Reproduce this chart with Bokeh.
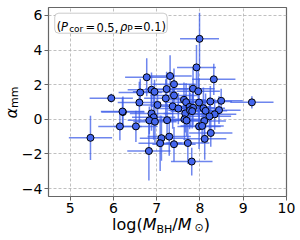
import numpy as np
from bokeh.plotting import figure
from bokeh.models import Range1d, FixedTicker, CustomJSTickFormatter, Label, BoxAnnotation, ColumnDataSource, Div
from bokeh.layouts import row, column
from bokeh.embed import file_html
from bokeh.resources import INLINE

# ---- data ----
log_mbh = [7.99, 7.92, 8.32, 6.77, 7.31, 7.40, 6.62, 6.88, 6.95, 7.23,
           7.84, 7.96, 7.40, 7.21, 5.95, 6.60, 7.02, 7.37, 7.50, 7.63,
           7.68, 7.76, 7.84, 7.98, 8.24, 8.49, 9.20, 8.08, 8.13, 8.44,
           8.34, 8.22, 6.22, 6.21, 6.88, 6.93, 6.83, 6.96, 7.24, 7.66,
           7.64, 7.69, 7.77, 8.10, 7.98, 8.05, 6.15, 6.52, 8.25, 8.11,
           7.29, 7.11, 7.08, 7.40, 7.72, 5.47, 6.82, 7.81, 7.82]
alpha_mm = [4.65, 3.00, 2.31, 2.43, 2.50, 2.03, 1.55, 1.71, 1.59, 1.75,
            1.77, 1.62, 1.38, 1.21, 1.22, 0.97, 0.83, 0.75, 0.62, 1.13,
            0.99, 0.72, 0.67, 0.97, 1.03, 1.07, 0.98, 0.64, 0.49, 0.53,
            0.29, 0.17, 0.42, 0.45, 0.34, 0.12, -0.06, -0.14, -0.05, 0.34,
            0.00, -0.07, 0.52, -0.10, -0.41, -0.38, -0.41, -0.41, -0.79, -1.13,
            -1.00, -1.09, -1.38, -1.44, -1.37, -1.07, -1.83, -2.44, 0.47]
log_mbh_err = [0.45, 0.45, 0.50, 0.50, 0.50, 0.50, 0.50, 0.55, 0.50, 0.50,
               0.50, 0.50, 0.55, 0.50, 0.50, 0.50, 0.50, 0.50, 0.50, 0.50,
               0.50, 0.50, 0.50, 0.50, 0.50, 0.50, 0.50, 0.50, 0.50, 0.50,
               0.50, 0.50, 0.50, 0.50, 0.50, 0.50, 0.50, 0.50, 0.50, 0.50,
               0.50, 0.50, 0.50, 0.50, 0.50, 0.50, 0.50, 0.50, 0.50, 0.50,
               0.50, 0.50, 0.50, 0.50, 0.50, 0.50, 0.50, 0.48, 0.50]
alpha_mm_err = [1.50, 1.30, 0.90, 1.10, 1.20, 0.90, 0.80, 1.00, 0.70, 1.00,
                1.20, 1.40, 0.90, 1.10, 0.25, 1.20, 0.80, 1.30, 0.90, 1.00,
                1.10, 1.30, 1.00, 1.40, 0.90, 0.70, 0.35, 1.20, 1.00, 0.80,
                0.90, 1.10, 0.90, 0.80, 1.00, 1.30, 0.80, 1.20, 0.90, 1.10,
                1.20, 0.90, 1.00, 1.20, 1.30, 1.00, 0.80, 0.90, 0.80, 1.20,
                1.10, 1.30, 1.60, 1.00, 1.20, 1.28, 1.70, 0.80, 1.00]
x_ticks = [5, 6, 7, 8, 9, 10]
y_ticks = [-4, -2, 0, 2, 4, 6]
x_lim = (4.5, 10.0)
y_lim = (-4.46, 6.46)

x = np.array(log_mbh)
y = np.array(alpha_mm)
xe = np.array(log_mbh_err)
ye = np.array(alpha_mm_err)
src = ColumnDataSource(dict(x=x, y=y, x0=x - xe, x1=x + xe, y0=y - ye, y1=y + ye))

# layout: [y-title | figure] over [x-title]; Bokeh's page has no body margin
YLAB_W = 18
W, H = 283, 218
XLAB_H = 22
p = figure(width=W, height=H, output_backend="svg", toolbar_location=None,
           x_range=Range1d(*x_lim), y_range=Range1d(*y_lim),
           min_border_left=27, min_border_right=15, min_border_top=7, min_border_bottom=22)
p.margin = 0
p.background_fill_color = "white"
p.border_fill_alpha = 0
p.outline_line_color = "#666666"
p.outline_line_width = 1.2

for ax in (p.xaxis[0], p.yaxis[0]):
    ax.axis_line_color = None
    ax.major_tick_line_color = "#666666"
    ax.major_tick_out = 4
    ax.major_tick_in = 0
    ax.minor_tick_line_color = None
    ax.major_label_text_font = "DejaVu Sans"
    ax.major_label_text_font_size = "14px"
    ax.major_label_text_color = "black"
p.xaxis[0].ticker = FixedTicker(ticks=x_ticks)
p.yaxis[0].ticker = FixedTicker(ticks=y_ticks)
p.xaxis[0].major_label_standoff = 2
p.yaxis[0].major_label_standoff = 2
fmt = CustomJSTickFormatter(code="return (tick < 0 ? '\\u2212' : '') + Math.abs(tick).toFixed(0);")
p.xaxis[0].formatter = fmt
p.yaxis[0].formatter = fmt

p.grid.grid_line_color = "#b0b0b0"
p.grid.grid_line_dash = "3 2"
p.grid.grid_line_width = 0.8

# error bars then markers
p.segment("x0", "y", "x1", "y", source=src, line_color="#3d5ee8", line_alpha=0.75, line_width=1.5)
p.segment("x", "y0", "x", "y1", source=src, line_color="#3d5ee8", line_alpha=0.75, line_width=1.5)
p.scatter("x", "y", source=src, size=7, fill_color="#4466ee", line_color="black", line_width=1)

# ---- helpers to place the composite (sub-scripted) annotation text ----
FRAME_L, FRAME_R, FRAME_T, FRAME_B = 45.0, 285.0, 7.0, 196.0
PXX = (FRAME_R - FRAME_L) / (x_lim[1] - x_lim[0])
PXY = (FRAME_B - FRAME_T) / (y_lim[1] - y_lim[0])
def sx(px):
    return x_lim[0] + (px - FRAME_L) / PXX
def sy(py):
    return y_lim[1] - (py - FRAME_T) / PXY

def piece(txt, px, py, size, style="normal"):
    p.add_layout(Label(x=sx(px), y=sy(py), text=txt, text_font="DejaVu Sans",
                       text_font_size=f"{size}px", text_font_style=style,
                       text_color="black", text_align="left", text_baseline="alphabetic"))

p.add_layout(BoxAnnotation(left=sx(51.3), right=sx(164.7), top=sy(12.7), bottom=sy(32.7),
                           fill_color="white", fill_alpha=1.0, line_color="#555555",
                           line_width=1, border_radius=4))
base, subb = 26.5, 28.5
piece("(", 53.2, base, 11.5)
piece("P", 57.5, base, 11.5, "italic")
piece("cor", 65.8, subb, 9)
piece("=", 82.3, base, 11.5)
piece("0.5,", 93.3, base, 11.5)
piece("\u03c1", 117.0, base, 11.5, "italic")
piece("P", 124.5, subb, 9)
piece("=", 130.6, base, 11.5)
piece("0.1)", 140.6, base, 11.5)

# ---- axis titles with real sub-scripts (HTML text) ----
ylab_html = ('<div style="position:relative;width:%dpx;height:%dpx;">'
             '<div style="position:absolute;left:-5px;top:93px;width:32px;height:19px;'
             'line-height:19px;transform:rotate(-90deg);white-space:nowrap;'
             'font-family:\'DejaVu Sans\';font-size:16px;color:black;text-align:left;">'
             '<i>&alpha;</i><span style="font-size:11px;position:relative;top:1px;">mm</span>'
             '</div></div>') % (YLAB_W, H + XLAB_H)
xlab_html = ('<div style="position:relative;width:%dpx;height:%dpx;">'
             '<div style="position:absolute;left:94px;top:0px;line-height:14px;white-space:nowrap;'
             'font-family:\'DejaVu Sans\';font-size:16px;color:black;">'
             'log(<i>M</i><span style="font-size:11px;position:relative;top:2.5px;">BH</span>/'
             '<i>M</i><span style="font-size:11px;position:relative;top:1px;margin-left:3px;">&#8857;</span>)'
             '</div></div>') % (W, XLAB_H)
ylab = Div(text=ylab_html, width=YLAB_W, height=H + XLAB_H, margin=0, styles={"overflow": "visible"})
xlab = Div(text=xlab_html, width=W, height=XLAB_H, margin=0, styles={"overflow": "visible"})

layout = row(ylab, column(p, xlab, spacing=0), spacing=0)

open("out.html", "w").write(file_html(layout, INLINE))
